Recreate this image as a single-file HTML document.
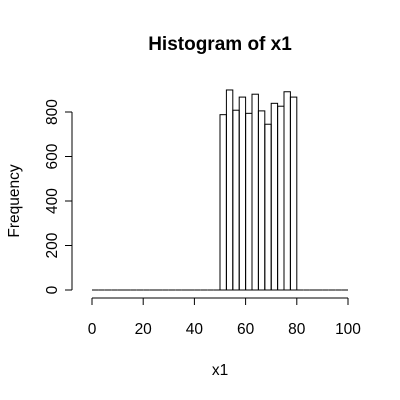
<!DOCTYPE html>
<html><head><style>body{margin:0;background:#fff}svg{display:block;font-family:"Liberation Sans",sans-serif}</style></head>
<body>
<svg id="c" width="400" height="400">
<text x="220" y="50" text-anchor="middle" font-weight="bold" font-size="19">Histogram of x1</text>
<text x="220" y="375" text-anchor="middle" font-size="15.5">x1</text>
<text transform="translate(19,201) rotate(-90)" text-anchor="middle" font-size="15.5">Frequency</text>
<g id="g"></g>
</svg>
<script>
const binStarts=[0,2.5,5,7.5,10,12.5,15,17.5,20,22.5,25,27.5,30,32.5,35,37.5,40,42.5,45,47.5,50,52.5,55,57.5,60,62.5,65,67.5,70,72.5,75,77.5,80,82.5,85,87.5,90,92.5,95,97.5];
const counts=[0,0,0,0,0,0,0,0,0,0,0,0,0,0,0,0,0,0,0,0,788,899,808,867,794,880,805,745,839,826,891,867,0,0,0,0,0,0,0,0];
const binWidth=2.5;
const xTicks=[0,20,40,60,80,100];
const yTicks=[0,200,400,600,800];
const NS="http://www.w3.org/2000/svg",g=document.getElementById('g');
const X=v=>92+v*2.56, Y=v=>290-v*0.2225;
function el(t,a){const e=document.createElementNS(NS,t);for(const k in a)e.setAttribute(k,a[k]);g.appendChild(e);return e;}
binStarts.forEach((b,i)=>{
let r;
if(counts[i]>0){r=el('rect',{x:X(b),y:Y(counts[i]),width:X(b+binWidth)-X(b),height:Y(0)-Y(counts[i]),fill:'none',stroke:'#000','stroke-width':1});}
else{r=el('line',{x1:X(b),x2:X(b+binWidth),y1:Y(0),y2:Y(0),stroke:'#000','stroke-width':1});}

});
const xa=el('line',{x1:X(0),x2:X(100),y1:298,y2:298,stroke:'#000'});


xTicks.forEach(t=>{el('line',{x1:X(t),x2:X(t),y1:298,y2:305,stroke:'#000'});const s=el('text',{x:X(t),y:334,'text-anchor':'middle','font-size':15.5});s.textContent=t;

});
const ya=el('line',{x1:72,x2:72,y1:Y(0),y2:Y(800),stroke:'#000'});


yTicks.forEach(t=>{el('line',{x1:65,x2:72,y1:Y(t),y2:Y(t),stroke:'#000'});const s=el('text',{transform:`translate(57,${Y(t)}) rotate(-90)`,'text-anchor':'middle','font-size':15.5});s.textContent=t;

});
</script>
</body></html>
